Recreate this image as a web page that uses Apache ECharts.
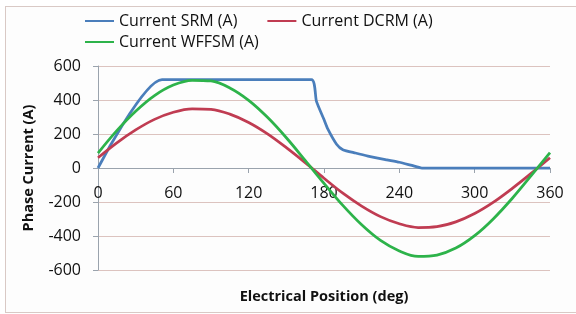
<!DOCTYPE html>
<html>
<head>
<meta charset="utf-8">
<script src="https://cdn.jsdelivr.net/npm/echarts@6/dist/echarts.min.js"></script>
<style>
  html, body { margin: 0; padding: 0; background: #ffffff; }
  #frame { position: absolute; left: 5px; top: 6px; width: 580px; height: 305px;
           border: 1px solid #d9c9c5; background: #fdfdfd; }
  #chart { position: absolute; left: 0; top: 0; width: 576px; height: 314px; }
</style>
</head>
<body>
<div id="frame"></div>
<div id="chart"></div>
<script>
// electrical position (deg) for the two sine-like currents
const angles = [0, 15, 30, 45, 60, 75, 90, 105, 120, 135, 150, 165, 180,
                195, 210, 225, 240, 255, 270, 285, 300, 315, 330, 345, 360];
const dcrm = [60, 148, 224, 286, 328, 348, 345, 317, 268, 201, 120, 32, -60,
              -148, -224, -286, -328, -350, -345, -317, -268, -201, -120, -32, 60];
const wffsm = [88, 220, 334, 426, 488, 516, 512, 471, 398, 298, 178, 45, -90,
               -220, -334, -426, -488, -520, -512, -471, -398, -298, -178, -45, 90];

// SRM current is piecewise, read point by point
const srmX = [0, 51, 170, 174, 180, 183, 190, 195, 205, 215, 230, 240, 250, 258, 360];
const srmY = [0, 520, 520, 392, 285, 230, 140, 108, 88, 70, 48, 34, 15, 0, 0];

const xTicks = [0, 60, 120, 180, 240, 300, 360];
const yTicks = [-600, -400, -200, 0, 200, 400, 600];

const font = '"Open Sans", Lato, sans-serif';
const pair = (xs, ys) => xs.map((x, i) => [x, ys[i]]);

let option = {
    animation: false,
    legend: [
        {
            data: ['Current SRM (A)', 'Current DCRM (A)'],
            left: 80, top: 8, itemGap: 30,
            icon: 'rect', itemWidth: 29, itemHeight: 2,
            textStyle: { fontFamily: font, fontSize: 16, color: '#111' }
        },
        {
            data: ['Current WFFSM (A)'],
            left: 80, top: 29,
            icon: 'rect', itemWidth: 29, itemHeight: 2,
            textStyle: { fontFamily: font, fontSize: 16, color: '#111' }
        }
    ],
    grid: { left: 98, right: 26, top: 66, bottom: 44, outerBoundsMode: 'none', containLabel: false },
    xAxis: {
        type: 'value', min: xTicks[0], max: xTicks[xTicks.length - 1], interval: 60,
        // axis sits on the zero line, 102px above the grid bottom
        offset: -102,
        name: 'Electrical Position (deg)', nameLocation: 'middle', nameGap: 121,
        nameTextStyle: { fontFamily: font, fontSize: 14.5, fontWeight: 'bold', color: '#111' },
        axisLine: { onZero: false, lineStyle: { color: '#9aa3ad', width: 1 } },
        axisTick: { show: true, length: 5, inside: false, lineStyle: { color: '#9aa3ad' } },
        axisLabel: { margin: 17, fontFamily: font, fontSize: 16, color: '#111' },
        splitLine: { show: false }
    },
    yAxis: {
        type: 'value', min: yTicks[0], max: yTicks[yTicks.length - 1], interval: 200,
        name: 'Phase Current (A)', nameLocation: 'middle', nameGap: 62,
        nameTextStyle: { fontFamily: font, fontSize: 14.5, fontWeight: 'bold', color: '#111' },
        axisLine: { show: true, onZero: false, lineStyle: { color: '#9aa3ad', width: 1 } },
        axisTick: { show: true, length: 5, lineStyle: { color: '#9aa3ad' } },
        axisLabel: { margin: 17, fontFamily: font, fontSize: 16, color: '#111' },
        splitLine: { show: true, lineStyle: { color: '#dcc3bf', width: 1 } }
    },
    series: [
        {
            name: 'Current SRM (A)', type: 'line', data: pair(srmX, srmY),
            showSymbol: false, smooth: 0.2, color: '#4a7ebb',
            lineStyle: { width: 2.75 }
        },
        {
            name: 'Current DCRM (A)', type: 'line', data: pair(angles, dcrm),
            showSymbol: false, smooth: 0.35, color: '#c03c52',
            lineStyle: { width: 2.75 }
        },
        {
            name: 'Current WFFSM (A)', type: 'line', data: pair(angles, wffsm),
            showSymbol: false, smooth: 0.35, color: '#2db34a',
            lineStyle: { width: 2.75 }
        }
    ]
};

let myChart = echarts.init(document.getElementById('chart'));
myChart.setOption(option);
</script>
</body>
</html>
